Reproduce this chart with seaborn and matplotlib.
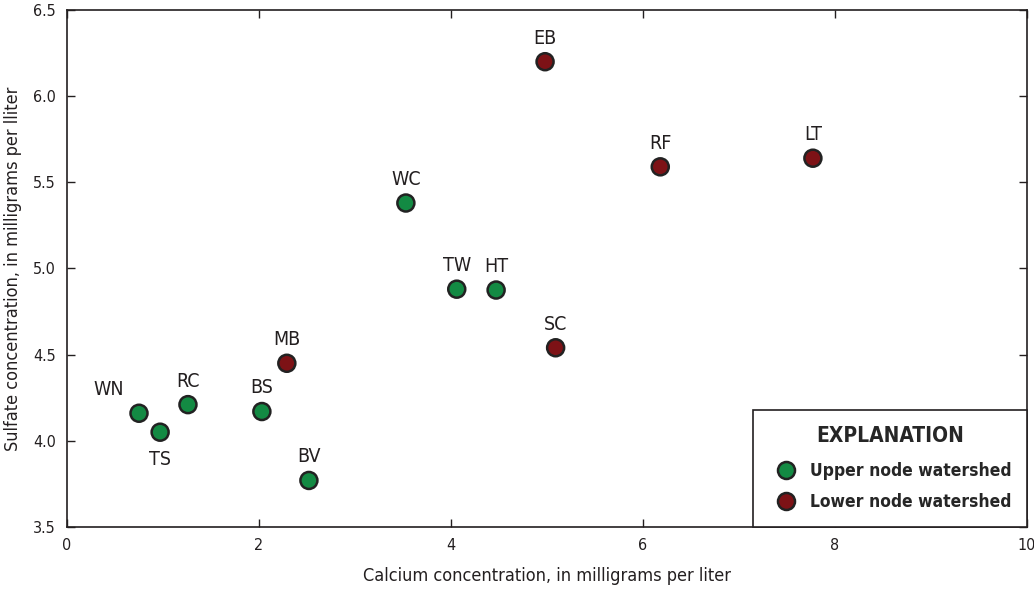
import matplotlib
matplotlib.use("Agg")
import matplotlib.pyplot as plt
import seaborn as sns
import pandas as pd

sites = ["WN", "TS", "RC", "BS", "BV", "MB", "WC", "TW", "HT", "EB", "SC", "RF", "LT"]
calcium = [0.75, 0.97, 1.26, 2.03, 2.52, 2.29, 3.53, 4.06, 4.47, 4.98, 5.09, 6.18, 7.77]
sulfate = [4.16, 4.05, 4.21, 4.17, 3.77, 4.45, 5.38, 4.88, 4.875, 6.20, 4.54, 5.59, 5.64]
groups = ["Upper node watershed", "Upper node watershed", "Upper node watershed",
          "Upper node watershed", "Upper node watershed", "Lower node watershed",
          "Upper node watershed", "Upper node watershed", "Upper node watershed",
          "Lower node watershed", "Lower node watershed", "Lower node watershed",
          "Lower node watershed"]
group_order = ["Upper node watershed", "Lower node watershed"]
group_colors = ["#138a43", "#7d1216"]
xticks = [0, 2, 4, 6, 8, 10]
yticks = [3.5, 4.0, 4.5, 5.0, 5.5, 6.0, 6.5]
# label placement: (dx, dy) offsets in points
label_offsets = {"WN": (-22, 17), "TS": (0, -20)}

df = pd.DataFrame({"site": sites, "calcium": calcium, "sulfate": sulfate, "group": groups})

sns.set_theme(style="ticks")
plt.rcParams["font.family"] = ["DejaVu Sans"]
plt.rcParams["font.stretch"] = "condensed"

fig = plt.figure(figsize=(10.34, 5.96), dpi=100)
ax = fig.add_axes([0.0648, 0.1158, 0.9284, 0.8674])

sns.scatterplot(data=df, x="calcium", y="sulfate", hue="group", hue_order=group_order,
                palette=group_colors, s=150, edgecolor="#222222", linewidth=1.8,
                ax=ax, zorder=3)

for s, x, y in zip(sites, calcium, sulfate):
    dx, dy = label_offsets.get(s, (0, 17))
    ax.annotate(s, (x, y), xytext=(dx, dy), textcoords="offset points",
                ha="center", va="center", fontsize=14, color="#231f20",
                fontstretch="condensed")

ax.set_xlim(0, 10)
ax.set_ylim(3.5, 6.5)
ax.set_xticks(xticks)
ax.set_xticklabels([str(t) for t in xticks], fontstretch="condensed")
ax.set_yticks(yticks)
ax.set_yticklabels([f"{t:.1f}" for t in yticks], fontstretch="condensed")
ax.tick_params(direction="in", length=6, width=1, top=True, right=True,
               labelsize=11.5, colors="#231f20", pad=8)
for sp in ax.spines.values():
    sp.set_linewidth(1.2)
    sp.set_color("#231f20")

ax.set_xlabel("Calcium concentration, in milligrams per liter", fontsize=13,
              color="#231f20", labelpad=10, fontstretch="condensed")
ax.set_ylabel("Sulfate concentration, in milligrams per lliter", fontsize=13,
              color="#231f20", labelpad=8, fontstretch="condensed")

handles, labels = ax.get_legend_handles_labels()
leg = ax.legend(handles, labels, title="EXPLANATION", loc="lower right",
                borderaxespad=0, fancybox=False, edgecolor="#231f20",
                framealpha=1,
                prop={"weight": "bold", "size": 12.5, "stretch": "condensed"},
                title_fontproperties={"weight": "bold", "size": 15, "stretch": "condensed"},
                borderpad=0.9, labelspacing=0.75, handletextpad=0.4,
                markerscale=1.0)
leg.get_frame().set_linewidth(1.2)
leg._legend_box.sep = 12
leg.set_zorder(5)

fig.savefig("out.png", dpi=100)
